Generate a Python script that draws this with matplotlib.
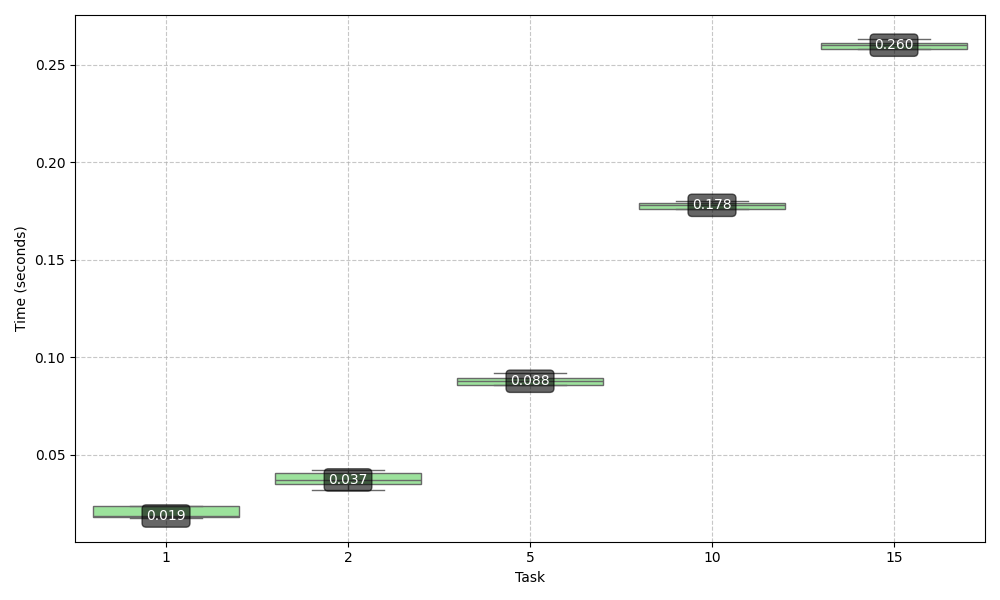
import numpy as np
import pandas as pd
import matplotlib
matplotlib.use("Agg")
import matplotlib.pyplot as plt
import seaborn as sns

tasks = ["1", "2", "5", "10", "15"]
times_1 = [0.0178, 0.0180, 0.0187, 0.0237, 0.0238]
times_2 = [0.0321, 0.0350, 0.0372, 0.0408, 0.0423]
times_5 = [0.0858, 0.0860, 0.0878, 0.0893, 0.0922]
times_10 = [0.1760, 0.1763, 0.1780, 0.1790, 0.1803]
times_15 = [0.2581, 0.2583, 0.2601, 0.2612, 0.2633]

all_times = [times_1, times_2, times_5, times_10, times_15]
rows = []
for t, vals in zip(tasks, all_times):
    for v in vals:
        rows.append({"Task": t, "Time": v})
df = pd.DataFrame(rows)

fig, ax = plt.subplots(figsize=(10, 6), dpi=100)
sns.boxplot(data=df, x="Task", y="Time", order=tasks, color="lightgreen",
            linecolor="dimgray", linewidth=1, width=0.8, ax=ax)

# median labels
for i, vals in enumerate(all_times):
    med = np.median(vals)
    ax.text(i, med, f"{med:.3f}", ha="center", va="center", color="white",
            fontsize=10,
            bbox=dict(facecolor="black", alpha=0.6, boxstyle="round,pad=0.3"))

ax.grid(True, linestyle="--", alpha=0.7)
ax.set_axisbelow(True)
ax.set_xlabel("Task")
ax.set_ylabel("Time (seconds)")
plt.tight_layout()
plt.savefig("out.png")
